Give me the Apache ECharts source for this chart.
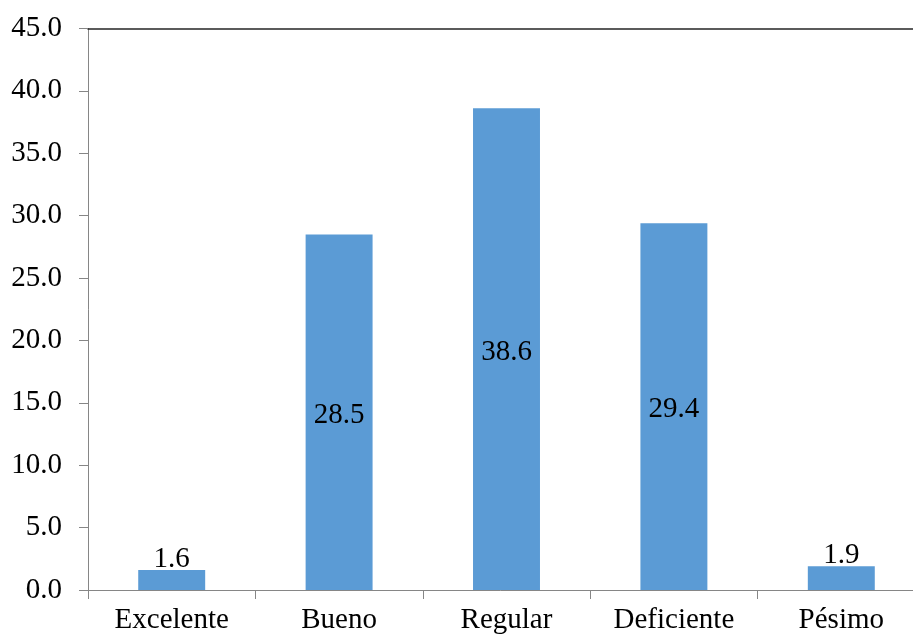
<!DOCTYPE html>
<html>
<head>
<meta charset="utf-8">
<style>
  html, body { margin: 0; padding: 0; background: #fff; }
  #chart { width: 913px; height: 637px; }
</style>
<script src="https://cdn.jsdelivr.net/npm/echarts@6/dist/echarts.min.js"></script>
</head>
<body>
<div id="chart"></div>
<script>
// Rating categories and their percentages
const categories = ['Excelente', 'Bueno', 'Regular', 'Deficiente', 'Pésimo'];
const percentages = [1.6, 28.5, 38.6, 29.4, 1.9];
const yTicks = { min: 0, max: 45, interval: 5 };

const FONT = '"Liberation Serif", "Times New Roman", serif';
const AXIS_GREY = '#868686';

// Short bars get their label placed just above the bar top
const barData = percentages.map(function (v) {
  if (v < 5) {
    return { value: v, label: { position: 'top', distance: -4, offset: [0, 0] } };
  }
  return v;
});

const chart = echarts.init(document.getElementById('chart'), null, { renderer: 'canvas' });
chart.setOption({
  animation: false,
  backgroundColor: '#ffffff',
  // the plot area runs slightly past the right edge of the canvas
  grid: {
    left: 88, top: 28.5, height: 561.5, width: 837,
    outerBoundsMode: 'none', containLabel: false
  },
  xAxis: [
    {
      type: 'category',
      data: categories,
      axisLine: { show: true, lineStyle: { color: AXIS_GREY, width: 1 } },
      axisTick: { show: true, alignWithLabel: false, length: 9, lineStyle: { color: AXIS_GREY } },
      axisLabel: { color: '#000', fontFamily: FONT, fontSize: 29, margin: 16, interval: 0 },
      splitLine: { show: false }
    },
    {
      // plain top border of the plot area
      type: 'category',
      position: 'top',
      data: categories,
      axisLine: { show: true, lineStyle: { color: '#262626', width: 1.5 } },
      axisTick: { show: false },
      axisLabel: { show: false },
      splitLine: { show: false }
    }
  ],
  yAxis: {
    type: 'value',
    min: yTicks.min,
    max: yTicks.max,
    interval: yTicks.interval,
    axisLine: { show: true, lineStyle: { color: AXIS_GREY, width: 1 } },
    axisTick: { show: true, length: 9, lineStyle: { color: AXIS_GREY } },
    axisLabel: {
      color: '#000', fontFamily: FONT, fontSize: 29, margin: 26,
      formatter: function (v) { return v.toFixed(1); }
    },
    splitLine: { show: false }
  },
  series: [{
    type: 'bar',
    xAxisIndex: 0,
    data: barData,
    barCategoryGap: '60%',
    itemStyle: { color: '#5B9BD5' },
    label: {
      show: true,
      position: 'inside',
      offset: [0, 3],
      color: '#000',
      fontFamily: FONT,
      fontSize: 29,
      formatter: function (p) { return p.value.toFixed(1); }
    }
  }]
});
</script>
</body>
</html>
